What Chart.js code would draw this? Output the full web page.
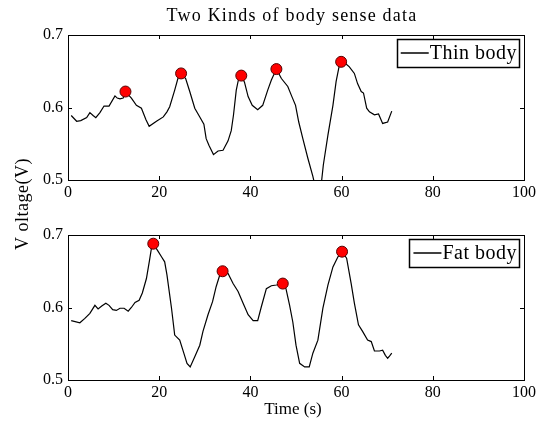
<!DOCTYPE html>
<html>
<head>
<meta charset="utf-8">
<script src="https://cdn.jsdelivr.net/npm/chart.js@4/dist/chart.umd.min.js"></script>
<style>
html,body{margin:0;padding:0;background:#fff;}
#wrap{position:relative;width:539px;height:421px;}
canvas{position:absolute;left:0;top:0;}
</style>
</head>
<body>
<div id="wrap">
<canvas id="c1" width="539" height="421"></canvas>
<canvas id="c2" width="539" height="421"></canvas>
</div>
<script>
// ---- data ----
const chartTitle = "Two Kinds of body sense data";
const yAxisLabel = "V oltage(V)";
const xAxisLabel = "Time (s)";
const xTicks = [0, 20, 40, 60, 80, 100];
const yTicks = [0.5, 0.6, 0.7];

const thinLabel = "Thin body";
const thinTime = [0.7,1.9,2.8,4.1,4.8,5.5,6.1,7.0,7.9,9.0,10.3,10.8,11.4,12.1,12.6,13.9,15.0,16.1,17.1,17.8,19.4,20.9,21.7,22.3,23.4,24.1,24.8,25.8,26.7,27.8,28.9,29.8,30.3,30.9,31.9,32.9,34.0,35.1,35.8,36.3,36.9,37.4,38.0,38.7,39.5,40.4,41.6,42.7,43.8,44.6,45.7,46.8,48.2,49.1,49.9,50.6,51.5,52.6,53.7,54.6,55.5,56.0,57.0,58.1,58.8,59.4,59.9,60.8,61.7,62.8,63.5,64.3,64.8,65.5,66.1,67.2,68.1,69.0,70.1,71.0];
const thinVolt = [0.589,0.581,0.582,0.586,0.593,0.589,0.586,0.593,0.602,0.602,0.616,0.613,0.612,0.613,0.622,0.613,0.603,0.599,0.583,0.574,0.581,0.587,0.594,0.601,0.624,0.640,0.647,0.640,0.622,0.599,0.587,0.577,0.557,0.548,0.535,0.540,0.541,0.554,0.568,0.590,0.624,0.639,0.644,0.635,0.615,0.603,0.597,0.603,0.624,0.638,0.653,0.640,0.629,0.615,0.603,0.580,0.557,0.530,0.505,0.480,0.492,0.521,0.562,0.603,0.636,0.655,0.663,0.661,0.656,0.647,0.633,0.622,0.620,0.599,0.594,0.590,0.591,0.578,0.580,0.595];
const thinPeakTime = [12.6, 24.8, 38.0, 45.7, 59.9];
const thinPeakVolt = [0.622, 0.647, 0.644, 0.653, 0.663];

const fatLabel = "Fat body";
const fatTime = [0.7,2.6,3.7,4.8,5.9,6.6,7.4,8.3,9.0,9.8,10.6,11.4,12.3,13.2,13.9,14.7,15.6,16.3,17.2,17.9,18.3,18.7,19.8,20.5,21.2,21.7,22.7,23.4,24.5,25.4,26.1,26.8,27.8,28.9,29.6,30.7,31.7,32.5,33.3,33.9,35.1,36.2,37.3,38.4,39.5,40.6,41.6,42.4,43.5,44.6,45.7,47.1,47.8,48.6,49.3,50.0,50.8,51.9,52.9,53.7,54.8,55.9,57.0,58.1,59.2,60.1,61.1,62.1,62.8,63.7,64.6,65.7,66.5,67.2,68.3,69.0,69.6,70.1,70.5,71.0];
const fatVolt = [0.582,0.579,0.585,0.592,0.603,0.598,0.602,0.606,0.603,0.597,0.596,0.599,0.599,0.595,0.600,0.607,0.610,0.620,0.640,0.666,0.682,0.688,0.677,0.670,0.663,0.645,0.599,0.562,0.555,0.537,0.523,0.518,0.532,0.548,0.567,0.590,0.608,0.629,0.645,0.650,0.647,0.633,0.622,0.606,0.590,0.582,0.582,0.601,0.626,0.630,0.631,0.633,0.626,0.603,0.580,0.548,0.523,0.518,0.518,0.537,0.555,0.599,0.631,0.656,0.670,0.677,0.668,0.633,0.606,0.576,0.567,0.555,0.553,0.540,0.540,0.541,0.534,0.530,0.533,0.537];
const fatPeakTime = [18.7, 33.9, 47.1, 60.1];
const fatPeakVolt = [0.688, 0.650, 0.633, 0.677];

// ---- helpers ----
const FONT = "'Liberation Serif', 'Times New Roman', serif";
function pts(xs, ys){ const n=Math.min(xs.length, ys.length); const o=[]; for(let i=0;i<n;i++) o.push({x:xs[i], y:ys[i]}); return o; }

const framePlugin = {
  id: 'frame',
  afterDraw(chart, args, opts){
    const ctx = chart.ctx, a = chart.chartArea;
    const xs = chart.scales.x, ys = chart.scales.y;
    ctx.save();
    ctx.strokeStyle = '#000'; ctx.lineWidth = 1;
    ctx.strokeRect(Math.round(a.left)+0.5, Math.round(a.top)+0.5, Math.round(a.right-a.left), Math.round(a.bottom-a.top));
    const L = 4;
    ctx.beginPath();
    xTicks.forEach(v => { const px = Math.round(xs.getPixelForValue(v))+0.5;
      ctx.moveTo(px, a.top); ctx.lineTo(px, a.top+L);
      ctx.moveTo(px, a.bottom); ctx.lineTo(px, a.bottom-L); });
    yTicks.forEach(v => { const py = Math.round(ys.getPixelForValue(v))+0.5;
      ctx.moveTo(a.left, py); ctx.lineTo(a.left+L, py);
      ctx.moveTo(a.right, py); ctx.lineTo(a.right-L, py); });
    ctx.stroke();
    // legend box inside plot, top-right
    const ds = chart.data.datasets[0];
    ctx.font = '20px ' + FONT;
    ctx.letterSpacing = '0.5px';
    const tw = ctx.measureText(ds.label).width;
    const bh = 28, lineLen = 28;
    const bw = 4 + lineLen + 1 + tw + 2;
    const bx = a.right - 5 - bw, by = a.top + 4;
    ctx.fillStyle = '#fff';
    ctx.fillRect(bx, by, bw, bh);
    ctx.strokeStyle = '#000'; ctx.lineWidth = 1.5;
    ctx.strokeRect(Math.round(bx)+0.5, Math.round(by)+0.5, Math.round(bw), bh);
    ctx.lineWidth = 1.5;
    ctx.beginPath(); ctx.moveTo(bx+4, by+bh/2); ctx.lineTo(bx+4+lineLen, by+bh/2); ctx.stroke();
    ctx.fillStyle = '#000'; ctx.textBaseline = 'middle'; ctx.textAlign = 'left';
    ctx.fillText(ds.label, bx+4+lineLen+1, by+bh/2+1);
    // extra texts
    (opts.texts || []).forEach(t => {
      ctx.save();
      ctx.font = t.font; ctx.letterSpacing = t.ls || '0px';
      ctx.fillStyle = '#000'; ctx.textAlign = 'center'; ctx.textBaseline = 'middle';
      ctx.translate(t.x, t.y); if (t.rot) ctx.rotate(t.rot);
      ctx.fillText(t.text, 0, 0);
      ctx.restore();
    });
    ctx.restore();
  }
};

function makeChart(id, label, xs, ys, pxs, pys, padding, texts){
  return new Chart(document.getElementById(id), {
    type: 'line',
    data: { datasets: [
      { label: label, data: pts(xs, ys), borderColor: '#000', borderWidth: 1.2, pointRadius: 0, tension: 0, fill: false, order: 2 },
      { label: 'peaks', data: pts(pxs, pys), showLine: false, pointRadius: 5.5, pointBackgroundColor: '#ff0000', pointBorderColor: '#500', pointBorderWidth: 1, order: 1 }
    ]},
    options: {
      responsive: false, animation: false, devicePixelRatio: 1,
      layout: { padding: padding },
      plugins: { legend: { display: false }, title: { display: false }, tooltip: { enabled: false }, frame: { texts: texts } },
      scales: {
        x: { type: 'linear', min: 0, max: 100,
             afterBuildTicks: s => { s.ticks = xTicks.map(v => ({value: v})); },
             afterFit: s => { s.height = 20; },
             grid: { display: false, drawTicks: false }, border: { display: false },
             ticks: { color: '#000', padding: 3, maxRotation: 0, font: { family: FONT, size: 16 } } },
        y: { type: 'linear', min: 0.5, max: 0.7,
             afterBuildTicks: s => { s.ticks = yTicks.map(v => ({value: v})); },
             afterFit: s => { s.width = 68; },
             grid: { display: false, drawTicks: false }, border: { display: false },
             ticks: { color: '#000', padding: 5, font: { family: FONT, size: 16 }, callback: v => Number(v).toFixed(1) } }
      }
    },
    plugins: [framePlugin]
  });
}

makeChart('c1', thinLabel, thinTime, thinVolt, thinPeakTime, thinPeakVolt,
  { top: 35, right: 14, bottom: 221, left: 0 },
  [ { text: chartTitle, x: 292, y: 16, font: '18px ' + FONT, ls: '1.2px' },
    { text: yAxisLabel, x: 23, y: 204, rot: -Math.PI/2, font: '18px ' + FONT, ls: '0.5px' } ]);
makeChart('c2', fatLabel, fatTime, fatVolt, fatPeakTime, fatPeakVolt,
  { top: 235, right: 14, bottom: 21, left: 0 },
  [ { text: xAxisLabel, x: 293, y: 410, font: '17px ' + FONT } ]);
</script>
</body>
</html>
